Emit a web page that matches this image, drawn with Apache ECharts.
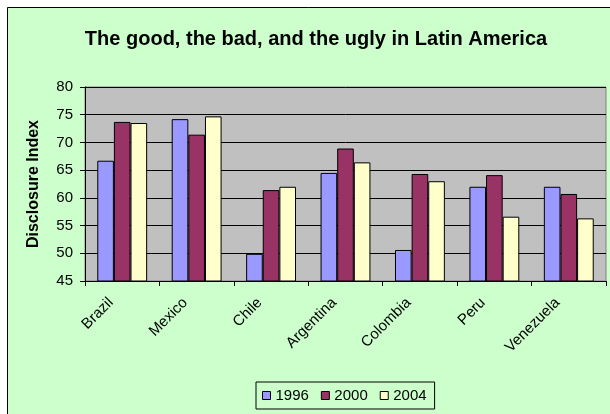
<!DOCTYPE html>
<html>
<head>
<meta charset="utf-8">
<script src="https://cdn.jsdelivr.net/npm/echarts@6/dist/echarts.min.js"></script>
<style>
html, body { margin: 0; padding: 0; background: #fff; }
#main { width: 610px; height: 414px; }
</style>
</head>
<body>
<div id="main"></div>
<script>
var countries = ['Brazil', 'Mexico', 'Chile', 'Argentina', 'Colombia', 'Peru', 'Venezuela'];
var years = ['1996', '2000', '2004'];
var v1996 = [66.7, 74.2, 49.9, 64.5, 50.6, 62.0, 62.0];
var v2000 = [73.7, 71.4, 61.4, 68.9, 64.3, 64.1, 60.7];
var v2004 = [73.5, 74.7, 62.0, 66.4, 63.0, 56.6, 56.3];
var colors = ['#9999FF', '#993366', '#FFFFCC'];

var chartDom = document.getElementById('main');
var myChart = echarts.init(chartDom);
var font = 'Liberation Sans, Arial, sans-serif';

var seriesList = [];
[v1996, v2000, v2004].forEach(function (vals, i) {
    seriesList.push({
        name: years[i],
        type: 'bar',
        data: vals,
        barGap: '0%',
        barCategoryGap: '33%',
        itemStyle: { color: colors[i], borderColor: '#000', borderWidth: 1 }
    });
});

var option = {
    backgroundColor: '#CCFFCC',
    animation: false,
    textStyle: { fontFamily: font },
    title: {
        text: 'The good, the bad, and the ugly in Latin America',
        left: 311, top: 24, textAlign: 'center',
        textStyle: { fontSize: 20, fontWeight: 'bold', color: '#000', fontFamily: font }
    },
    legend: {
        left: 256, top: 382,
        itemWidth: 8, itemHeight: 8, itemGap: 12,
        padding: [6, 8, 6, 6],
        borderColor: '#000', borderWidth: 1,
        icon: 'rect',
        textStyle: { fontSize: 15, color: '#000', fontFamily: font },
        itemStyle: { borderColor: '#000', borderWidth: 1 },
        data: years
    },
    grid: {
        left: 85, right: 4, top: 87, bottom: 133,
        show: true, backgroundColor: '#C0C0C0', borderColor: '#808080', borderWidth: 1
    },
    xAxis: {
        type: 'category',
        data: countries,
        axisLine: { lineStyle: { color: '#000' } },
        axisTick: { show: true, length: 5, lineStyle: { color: '#000' } },
        axisLabel: { rotate: 45, fontSize: 15, color: '#000', margin: 8, padding: [0, 16, 0, 0] }
    },
    yAxis: {
        type: 'value',
        min: 45, max: 80, interval: 5,
        name: 'Disclosure Index',
        nameLocation: 'middle',
        nameGap: 43,
        nameTextStyle: { fontSize: 16, fontWeight: 'bold', color: '#000' },
        axisLine: { show: true, lineStyle: { color: '#000' } },
        axisTick: { show: true, length: 5, lineStyle: { color: '#000' } },
        axisLabel: { fontSize: 15, color: '#000', margin: 12 },
        splitLine: { lineStyle: { color: '#000', width: 1 } }
    },
    graphic: [
        { type: 'rect', shape: { x: 0, y: 0, width: 7, height: 414 }, style: { fill: '#fff' } },
        { type: 'rect', shape: { x: 0, y: 0, width: 610, height: 7 }, style: { fill: '#fff' } },
        { type: 'line', shape: { x1: 7.5, y1: 7.5, x2: 610, y2: 7.5 }, style: { stroke: '#000', lineWidth: 1 } },
        { type: 'line', shape: { x1: 7.5, y1: 7.5, x2: 7.5, y2: 414 }, style: { stroke: '#000', lineWidth: 1 } }
    ],
    series: seriesList
};

option && myChart.setOption(option);
</script>
</body>
</html>
